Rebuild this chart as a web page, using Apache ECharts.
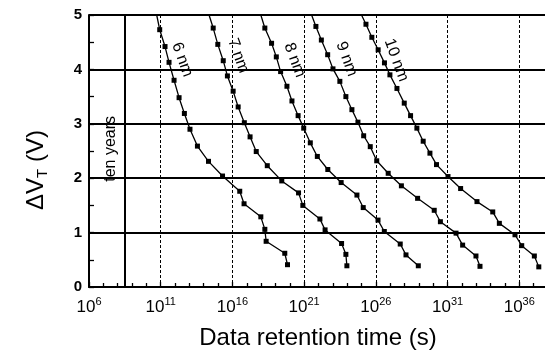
<!DOCTYPE html>
<html><head><meta charset="utf-8">
<script src="https://cdn.jsdelivr.net/npm/echarts@6/dist/echarts.min.js"></script>
<style>html,body{margin:0;padding:0;background:#fff}#c{width:545px;height:358px}</style>
</head><body><div id="c"></div>
<script>
// x values are log10(retention time in seconds)
const AXIS_START_EXP = 6;           // axis begins at 10^6 s
const xTickExps = [6, 11, 16, 21, 26, 31, 36];
const yTicks = [0, 1, 2, 3, 4, 5];
const tenYearsExp = 8.5;            // ten years ~ 3.15e8 s
const seriesNames = ['6 nm', '7 nm', '8 nm', '9 nm', '10 nm'];

// first entry of each curve is where the line leaves the top frame (no marker)
const logT6 = [10.72, 10.93, 11.30, 11.58, 11.93, 12.28, 12.65, 13.04, 13.56, 14.33, 15.31, 16.51, 16.81, 17.98, 18.26, 18.35, 19.65, 19.84];
const dv6   = [5.00, 4.73, 4.42, 4.13, 3.80, 3.48, 3.19, 2.90, 2.59, 2.31, 2.04, 1.76, 1.53, 1.29, 1.06, 0.84, 0.62, 0.41];

const logT7 = [14.37, 14.66, 14.98, 15.36, 15.65, 16.05, 16.40, 16.83, 17.23, 17.66, 18.43, 19.44, 20.61, 20.91, 22.10, 22.46, 23.61, 23.91, 23.98];
const dv7   = [5.00, 4.76, 4.46, 4.16, 3.88, 3.60, 3.31, 3.02, 2.76, 2.49, 2.23, 1.95, 1.73, 1.50, 1.25, 1.05, 0.80, 0.60, 0.39];

const logT8 = [17.98, 18.26, 18.73, 19.06, 19.36, 19.80, 20.15, 20.58, 20.97, 21.43, 21.92, 22.65, 23.58, 24.68, 25.12, 26.15, 26.59, 27.70, 28.10, 28.96];
const dv8   = [5.00, 4.76, 4.48, 4.23, 3.96, 3.69, 3.42, 3.15, 2.92, 2.65, 2.40, 2.16, 1.92, 1.69, 1.46, 1.23, 1.02, 0.79, 0.59, 0.39];

const logT9 = [21.52, 21.82, 22.20, 22.64, 23.01, 23.49, 23.91, 24.33, 24.75, 25.15, 25.61, 26.06, 26.86, 27.78, 28.91, 30.07, 30.50, 31.59, 32.05, 32.98, 33.26];
const dv9   = [5.00, 4.79, 4.54, 4.27, 4.01, 3.78, 3.50, 3.26, 3.03, 2.78, 2.58, 2.32, 2.09, 1.86, 1.63, 1.41, 1.20, 0.99, 0.77, 0.57, 0.38];

const logT10 = [25.00, 25.31, 25.72, 26.16, 26.60, 26.98, 27.47, 27.98, 28.42, 28.86, 29.30, 29.77, 30.23, 31.03, 31.91, 33.05, 34.15, 34.61, 35.70, 36.17, 37.05, 37.36];
const dv10   = [5.00, 4.83, 4.59, 4.36, 4.12, 3.90, 3.65, 3.38, 3.15, 2.92, 2.68, 2.46, 2.25, 2.03, 1.81, 1.57, 1.38, 1.17, 0.96, 0.76, 0.57, 0.37];

// label anchor points (log10 t, ΔV)
const labelLogT = [12.50, 16.40, 20.33, 23.96, 27.42];
const labelDv   = [4.18, 4.25, 4.17, 4.19, 4.17];
const tenYearsLabelPos = [7.54, 2.54];

const curves = [[logT6, dv6], [logT7, dv7], [logT8, dv8], [logT9, dv9], [logT10, dv10]];
const FONT = 'Liberation Sans, Arial, Helvetica, sans-serif';

const series = curves.map(function (c, i) {
  const data = c[0].map(function (t, k) {
    const item = { value: [t - AXIS_START_EXP, c[1][k]] };
    if (k === 0) item.symbol = 'none';
    return item;
  });
  const s = {
    name: seriesNames[i],
    type: 'line',
    data: data,
    symbol: 'rect',
    symbolSize: 5,
    itemStyle: { color: '#000' },
    lineStyle: { color: '#000', width: 1.3 },
    animation: false,
    z: 5,
    markPoint: {
      symbol: 'circle', symbolSize: 0, animation: false,
      data: [{ coord: [labelLogT[i] - AXIS_START_EXP, labelDv[i]] }],
      label: {
        show: true, position: 'inside', formatter: seriesNames[i], rotate: -70,
        fontSize: 16, color: '#000', fontFamily: FONT
      }
    }
  };
  if (i === 0) {
    s.markLine = {
      silent: true, symbol: ['none', 'none'], animation: false,
      label: { show: false },
      lineStyle: { color: '#000', width: 2, type: 'solid' },
      data: [{ xAxis: tenYearsExp - AXIS_START_EXP }]
    };
    s.markPoint.data.push({
      coord: [tenYearsLabelPos[0] - AXIS_START_EXP, tenYearsLabelPos[1]],
      label: { formatter: 'ten years', rotate: 90, fontSize: 16 }
    });
  }
  return s;
});

const chart = echarts.init(document.getElementById('c'), null, { renderer: 'canvas' });
chart.setOption({
  backgroundColor: '#fff',
  animation: false,
  grid: { left: 89, top: 15, width: 502, height: 272, containLabel: false, outerBoundsMode: 'none' },
  xAxis: {
    type: 'value', min: 0, max: 35, interval: 5,
    axisLine: { show: true, lineStyle: { color: '#000', width: 2 } },
    axisTick: { show: true, inside: true, length: 5, lineStyle: { color: '#000', width: 1.3 } },
    minorTick: { show: true, splitNumber: 5, length: 4, lineStyle: { color: '#000', width: 1.3 } },
    splitLine: { show: true, lineStyle: { color: '#000', width: 1, type: [3, 2] } },
    axisLabel: {
      margin: 9, color: '#000', fontFamily: FONT,
      formatter: function (v) {
        const e = Math.round(v + AXIS_START_EXP);
        return xTickExps.indexOf(e) >= 0 ? '{b|10}{s|' + e + '}' : '';
      },
      rich: {
        b: { fontSize: 17, lineHeight: 22, color: '#000', fontFamily: FONT },
        s: { fontSize: 11, lineHeight: 12, verticalAlign: 'top', color: '#000', fontFamily: FONT }
      }
    }
  },
  yAxis: {
    type: 'value', min: yTicks[0], max: yTicks[yTicks.length - 1], interval: 1,
    axisLine: { show: true, lineStyle: { color: '#000', width: 2 } },
    axisTick: { show: true, inside: true, length: 5, lineStyle: { color: '#000', width: 1.3 } },
    minorTick: { show: true, splitNumber: 2, length: 5, lineStyle: { color: '#000', width: 1.3 } },
    splitLine: { show: true, lineStyle: { color: '#000', width: 2 } },
    axisLabel: { margin: 7, fontSize: 15, fontWeight: 'bold', color: '#000', fontFamily: FONT }
  },
  graphic: [{
    type: 'text', x: 36, y: 170, rotation: Math.PI / 2,
    style: {
      text: '{a|ΔV}{t|T}{a| (V)}',
      align: 'center', verticalAlign: 'middle',
      rich: {
        a: { fontSize: 24, lineHeight: 28, fill: '#000', fontFamily: FONT },
        t: { fontSize: 15, lineHeight: 15, verticalAlign: 'bottom', fill: '#000', fontFamily: FONT }
      }
    }
  }, {
    type: 'text', x: 318, y: 338,
    style: {
      text: 'Data retention time (s)',
      align: 'center', verticalAlign: 'middle',
      fontSize: 24, fill: '#000', fontFamily: FONT
    }
  }],
  series: series
});
</script>
</body></html>
